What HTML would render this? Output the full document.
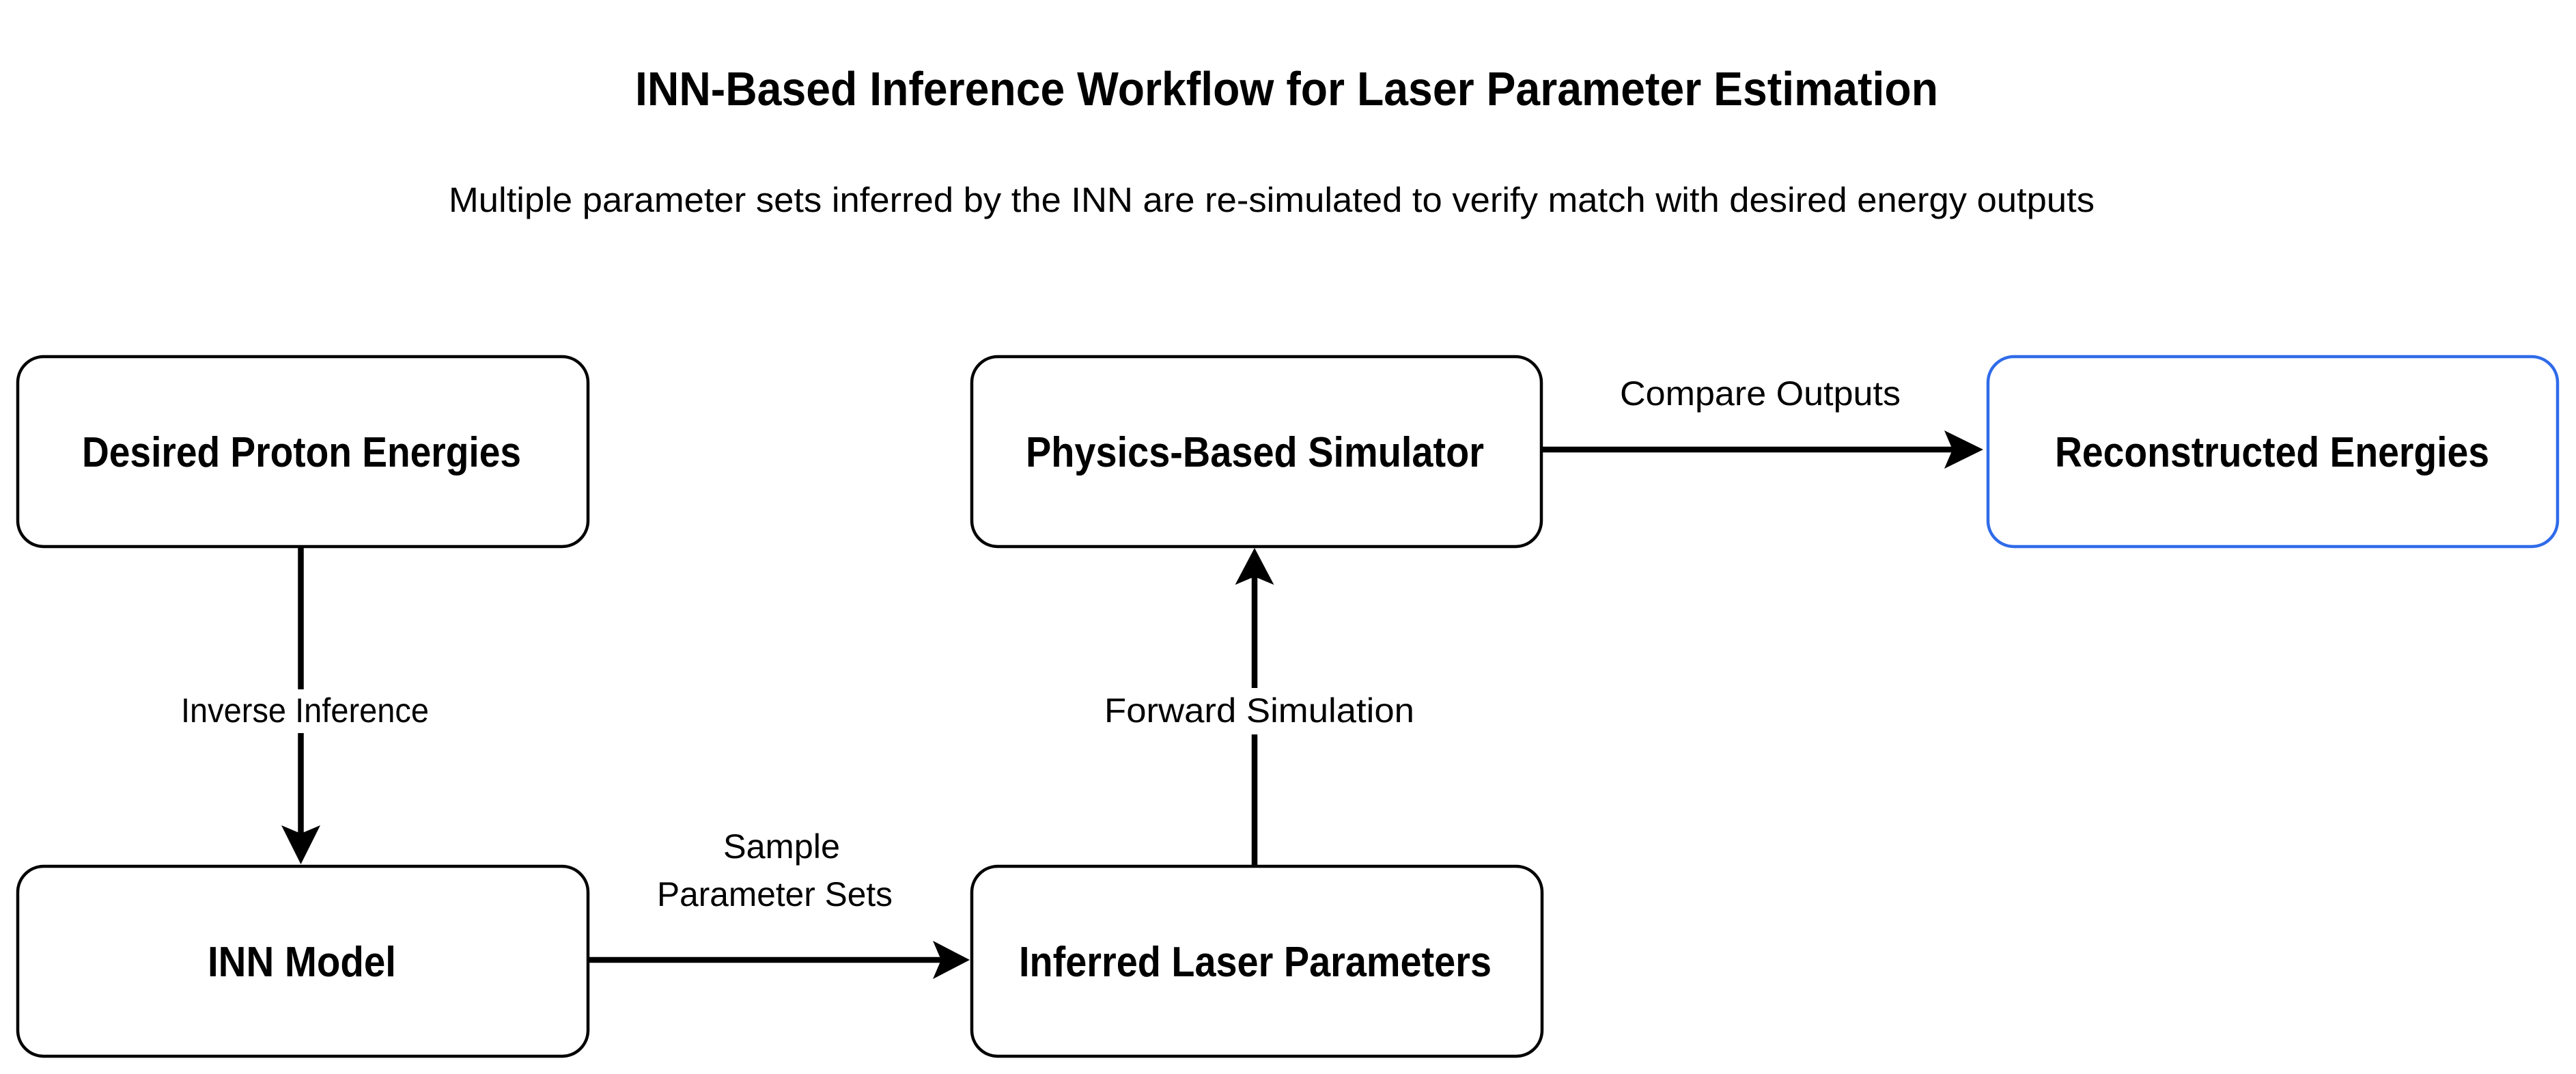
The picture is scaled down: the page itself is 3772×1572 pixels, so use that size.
<!DOCTYPE html>
<html>
<head>
<meta charset="utf-8">
<style>
  html, body { margin: 0; padding: 0; background: #ffffff; }
  body { width: 3772px; height: 1572px; overflow: hidden; }
  svg { display: block; }
  text { font-family: "Liberation Sans", "DejaVu Sans", sans-serif; fill: #000; }
  .b { font-weight: bold; }
</style>
</head>
<body>
<svg width="3772" height="1572" viewBox="0 0 3772 1572" xmlns="http://www.w3.org/2000/svg">
  <rect x="0" y="0" width="3772" height="1572" fill="#ffffff"/>

  <!-- Title & subtitle -->
  <text class="b" x="930" y="154" font-size="70" textLength="1908" lengthAdjust="spacingAndGlyphs">INN-Based Inference Workflow for Laser Parameter Estimation</text>
  <text x="657" y="310" font-size="51" textLength="2410" lengthAdjust="spacingAndGlyphs">Multiple parameter sets inferred by the INN are re-simulated to verify match with desired energy outputs</text>

  <!-- Boxes -->
  <rect x="26" y="522" width="835" height="278" rx="38" ry="38" fill="#fff" stroke="#000" stroke-width="4.5"/>
  <rect x="1423" y="522" width="834" height="278" rx="38" ry="38" fill="#fff" stroke="#000" stroke-width="4.5"/>
  <rect x="2911" y="522" width="834" height="278" rx="38" ry="38" fill="#fff" stroke="#2f6bea" stroke-width="4.5"/>
  <rect x="26" y="1268" width="835" height="278" rx="38" ry="38" fill="#fff" stroke="#000" stroke-width="4.5"/>
  <rect x="1423" y="1268" width="835" height="278" rx="38" ry="38" fill="#fff" stroke="#000" stroke-width="4.5"/>

  <!-- Box labels -->
  <text class="b" x="120" y="683" font-size="62" textLength="643" lengthAdjust="spacingAndGlyphs">Desired Proton Energies</text>
  <text class="b" x="1502" y="683" font-size="62" textLength="671" lengthAdjust="spacingAndGlyphs">Physics-Based Simulator</text>
  <text class="b" x="3009" y="683" font-size="62" textLength="636" lengthAdjust="spacingAndGlyphs">Reconstructed Energies</text>
  <text class="b" x="304" y="1429" font-size="62" textLength="276" lengthAdjust="spacingAndGlyphs">INN Model</text>
  <text class="b" x="1492" y="1429" font-size="62" textLength="692" lengthAdjust="spacingAndGlyphs">Inferred Laser Parameters</text>

  <!-- Connector: Desired -> INN (down) -->
  <line x1="440.5" y1="802" x2="440.5" y2="1222" stroke="#000" stroke-width="8.5"/>
  <polygon points="440.5,1265 412,1208 440.5,1220 469,1208" fill="#000"/>
  <rect x="410" y="1009" width="62" height="64" fill="#fff"/>
  <text x="265" y="1057" font-size="50" textLength="363" lengthAdjust="spacingAndGlyphs">Inverse Inference</text>

  <!-- Connector: INN -> Inferred (right) -->
  <line x1="861" y1="1405" x2="1380" y2="1405" stroke="#000" stroke-width="8.5"/>
  <polygon points="1420,1405 1366,1377 1378,1405 1366,1433" fill="#000"/>
  <text x="1059" y="1256" font-size="50" textLength="171" lengthAdjust="spacingAndGlyphs">Sample</text>
  <text x="962" y="1326" font-size="50" textLength="345" lengthAdjust="spacingAndGlyphs">Parameter Sets</text>

  <!-- Connector: Inferred -> Physics (up) -->
  <line x1="1837" y1="1266" x2="1837" y2="842" stroke="#000" stroke-width="8.5"/>
  <polygon points="1837,802 1808.5,856 1837,844 1865.5,856" fill="#000"/>
  <rect x="1806" y="1007" width="62" height="68" fill="#fff"/>
  <text x="1617" y="1057" font-size="50" textLength="454" lengthAdjust="spacingAndGlyphs">Forward Simulation</text>

  <!-- Connector: Physics -> Reconstructed (right) -->
  <line x1="2257" y1="658" x2="2860" y2="658" stroke="#000" stroke-width="8.5"/>
  <polygon points="2904,658 2847,630 2859,658 2847,686" fill="#000"/>
  <text x="2372" y="593" font-size="50" textLength="411" lengthAdjust="spacingAndGlyphs">Compare Outputs</text>
</svg>
</body>
</html>
